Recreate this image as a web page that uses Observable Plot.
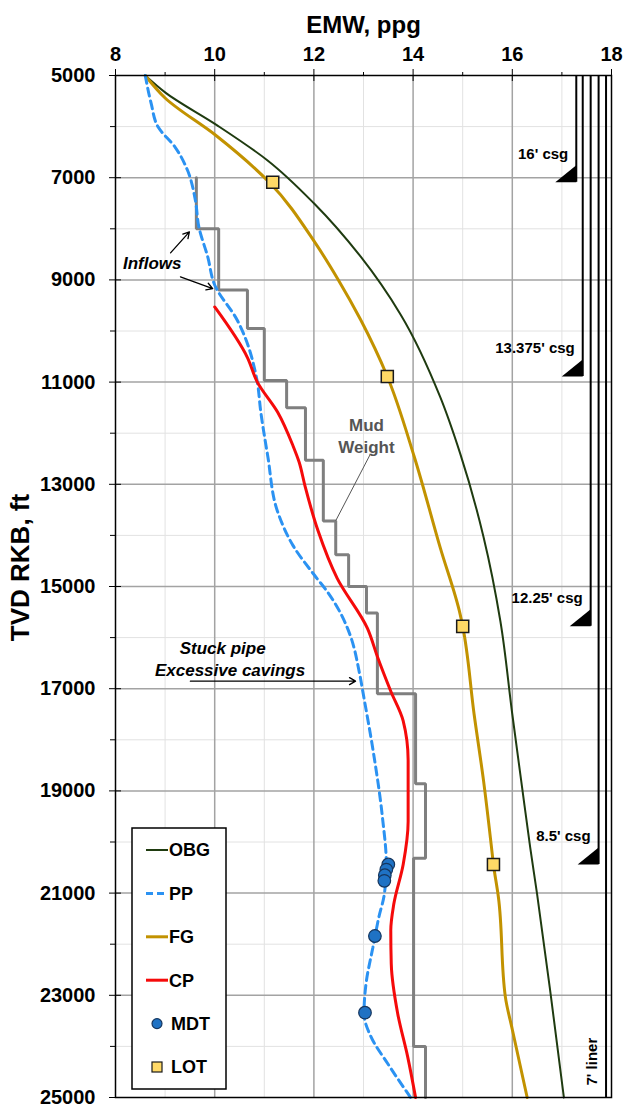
<!DOCTYPE html>
<html><head><meta charset="utf-8">
<script src="https://cdn.jsdelivr.net/npm/d3@7"></script>
<script src="https://cdn.jsdelivr.net/npm/@observablehq/plot@0.6"></script>
<style>
body{margin:0;background:#fff;}
#wrap{position:relative;width:626px;height:1109px;}
</style></head><body><div id="wrap"></div>
<script>
// ---- data (EMW ppg vs TVD ft) ----
const obgV = [8.6, 9.0, 10.05, 11.06, 12.0, 12.94, 13.75, 14.55, 14.95, 15.42, 15.76, 16.0, 16.2, 16.36, 16.5, 16.78, 17.04];
const obgD = [5000, 5330, 5975, 6657, 7500, 8541, 9680, 11300, 12400, 14030, 15680, 17500, 18950, 20100, 21020, 23030, 25000];

const fgV = [8.6, 9.0, 10.02, 11.1, 12.03, 12.49, 12.94, 13.48, 14.02, 14.55, 14.95, 15.0, 15.23, 15.42, 15.58, 15.62, 15.72, 15.86, 16.0, 16.3];
const fgD = [5000, 5440, 6170, 7090, 8281, 8996, 9776, 10890, 12450, 14250, 15550, 15780, 17500, 18800, 20100, 20440, 21080, 23030, 23670, 25000];

const ppV = [8.6, 8.72, 8.86, 9.2, 9.45, 9.61, 9.68, 9.86, 10.0, 10.45, 10.85, 10.93, 11.07, 11.27, 11.58, 12.02, 12.27, 12.52, 12.73, 12.92, 13.0, 13.2, 13.38, 13.46, 13.42, 13.31, 13.19, 13.05, 13.01, 13.15, 13.49, 13.95];
const ppD = [5000, 5550, 6010, 6400, 6850, 7440, 7960, 8550, 9100, 9780, 10950, 11590, 12450, 13540, 14200, 14790, 15100, 15490, 15950, 16700, 17130, 18250, 19500, 20440, 21020, 21470, 22060, 22780, 23360, 23810, 24340, 25000];

const cpV = [10.0, 10.66, 10.86, 11.27, 11.58, 11.7, 11.82, 12.08, 12.47, 13.08, 13.29, 13.55, 13.8, 13.9, 13.9, 13.8, 13.61, 13.55, 13.56, 13.69, 13.89, 14.05];
const cpD = [9530, 10520, 11000, 11590, 12250, 12560, 13030, 13900, 14840, 15820, 16400, 17050, 17630, 18400, 19600, 20440, 21220, 21730, 22390, 23360, 24200, 25000];

const mwV   = [9.63, 10.08, 10.66, 11.0, 11.45, 11.83, 12.19, 12.44, 12.7, 13.06, 13.28, 14.05, 14.25, 14.01, 14.25];
const mwTop = [7000, 8000, 9200, 9950, 10970, 11500, 12530, 13720, 14380, 15000, 15520, 17100, 18860, 20320, 24000];
const mwEnd = 25000;

const mdtV = [13.5, 13.46, 13.43, 13.42, 13.23, 13.03];
const mdtD = [20440, 20540, 20650, 20760, 21840, 23340];

const lotV = [11.17, 13.48, 15.0, 15.62];
const lotD = [7090, 10890, 15780, 20440];

const casingName = ["16' csg", "13.375' csg", "12.25' csg", "8.5' csg", "7' liner"];
const casingV    = [17.29, 17.42, 17.58, 17.74, 17.89];
const casingShoe = [7090, 10890, 15780, 20440, 25000];

const xMajor = [8, 10, 12, 14, 16, 18];
const xMinor = [9, 11, 13, 15, 17];
const yMajor = [5000, 7000, 9000, 11000, 13000, 15000, 17000, 19000, 21000, 23000, 25000];
const yMinor = [6000, 8000, 10000, 12000, 14000, 16000, 18000, 20000, 22000, 24000];

// annotations
const noteText = ["Inflows", "Stuck pipe", "Excessive cavings"];
const noteV    = [8.74, 10.16, 10.31];
const noteD    = [8680, 16210, 16640];
const arrowV1 = [9.11, 9.31, 9.51];
const arrowD1 = [8470, 8940, 16852];
const arrowV2 = [9.49, 9.96, 12.84];
const arrowD2 = [8060, 9170, 16852];
const mudLabel = {v: 13.06, d: 12030};
const mudLeader = {v1: 13.14, d1: 12407, v2: 12.44, d2: 13713};

// ---- tables ----
const zip = (V, D) => V.map((v, i) => ({v, d: D[i]}));
const obg = zip(obgV, obgD), fg = zip(fgV, fgD), pp = zip(ppV, ppD), cp = zip(cpV, cpD);
const mdt = zip(mdtV, mdtD), lot = zip(lotV, lotD);
const mw = [];
mwV.forEach((v, i) => { mw.push({v, d: mwTop[i]}); mw.push({v, d: i + 1 < mwTop.length ? mwTop[i + 1] : mwEnd}); });
const casings = casingName.map((name, i) => ({name, v: casingV[i], shoe: casingShoe[i]}));
const notes = noteText.map((t, i) => ({t, v: noteV[i], d: noteD[i]}));
const arrows = arrowV1.map((v, i) => ({x1: v, y1: arrowD1[i], x2: arrowV2[i], y2: arrowD2[i]}));

const C = {obg: "#1f3b10", fg: "#c29200", pp: "#2b92f2", cp: "#f50a0a", mw: "#7f7f7f",
           mdtFill: "#1f72c4", mdtStroke: "#16365e", lotFill: "#ffd966"};

const shoeSymbol = {draw(ctx) { ctx.moveTo(0, 0); ctx.lineTo(0, -17); ctx.lineTo(-21, 0); ctx.closePath(); }};
const FONT = "'Liberation Sans', Arial, Helvetica, sans-serif";

const chart = Plot.plot({
  width: 626, height: 1109,
  marginTop: 75, marginLeft: 115, marginRight: 15, marginBottom: 12,
  style: {fontFamily: FONT, fontWeight: "bold", fontSize: "20px", color: "#000", background: "#fff", overflow: "visible"},
  x: {domain: [8, 18], axis: null},
  y: {domain: [5000, 25000], reverse: true, axis: null},
  marks: [
    Plot.gridX({ticks: xMinor, stroke: "#e2e2e2", strokeOpacity: 1, strokeWidth: 1}),
    Plot.gridY({ticks: yMinor, stroke: "#e2e2e2", strokeOpacity: 1, strokeWidth: 1}),
    Plot.gridX({ticks: xMajor.slice(1, -1), stroke: "#a3a3a3", strokeOpacity: 1, strokeWidth: 1.5}),
    Plot.gridY({ticks: yMajor.slice(1, -1), stroke: "#a3a3a3", strokeOpacity: 1, strokeWidth: 1.5}),
    // casing strings
    Plot.ruleX(casings, {x: "v", y1: 5000, y2: "shoe", stroke: "#000", strokeWidth: 2}),
    Plot.dot(casings.filter(c => c.shoe < 25000), {x: "v", y: "shoe", symbol: shoeSymbol, fill: "#000", stroke: "none"}),
    Plot.text(casings.filter(c => c.shoe < 25000), {x: "v", y: "shoe", text: "name", textAnchor: "end", dx: -8, dy: -28, fontSize: 15}),
    Plot.text(casings.filter(c => c.shoe >= 25000), {x: "v", y: "shoe", text: "name", textAnchor: "start", rotate: -90, dx: -14, dy: -12, fontSize: 15}),
    // curves
    Plot.line(obg, {x: "v", y: "d", stroke: C.obg, strokeWidth: 2, curve: "monotone-y"}),
    Plot.line(fg, {x: "v", y: "d", stroke: C.fg, strokeWidth: 3, curve: "monotone-y"}),
    Plot.line(mw, {x: "v", y: "d", stroke: C.mw, strokeWidth: 3, curve: "linear", strokeLinejoin: "miter"}),
    Plot.line(pp, {x: "v", y: "d", stroke: C.pp, strokeWidth: 3, strokeDasharray: "8,5", curve: "monotone-y"}),
    Plot.line(cp, {x: "v", y: "d", stroke: C.cp, strokeWidth: 3, curve: "monotone-y"}),
    Plot.dot(mdt, {x: "v", y: "d", r: 6.3, fill: C.mdtFill, stroke: C.mdtStroke, strokeWidth: 1.2}),
    Plot.dot(lot, {x: "v", y: "d", symbol: "square", r: 6.8, fill: C.lotFill, stroke: "#1a1a1a", strokeWidth: 1.5}),
    // annotations
    Plot.text(notes, {x: "v", y: "d", text: "t", fontStyle: "italic", fontSize: 17, textAnchor: "middle"}),
    Plot.arrow(arrows, {x1: "x1", y1: "y1", x2: "x2", y2: "y2", stroke: "#000", strokeWidth: 1.3, headLength: 8}),
    Plot.link([mudLeader], {x1: "v1", y1: "d1", x2: "v2", y2: "d2", stroke: "#555", strokeWidth: 1}),
    Plot.text([mudLabel], {x: "v", y: "d", text: () => "Mud\nWeight", fill: "#555", fontSize: 17, lineHeight: 1.3, textAnchor: "middle"}),
    // frame & axes
    Plot.frame({stroke: "#000", strokeWidth: 1.5}),
    Plot.axisX({anchor: "top", ticks: xMajor, tickSize: 7, tickPadding: 8, tickFormat: d => String(d), label: null, fontSize: 20}),
    Plot.axisX({anchor: "top", ticks: xMajor, tickSize: -5, tickFormat: () => "", label: null}),
    Plot.axisX({anchor: "top", ticks: xMinor, tickSize: 4, tickFormat: () => "", label: null}),
    Plot.axisY({anchor: "left", ticks: yMajor, tickSize: 6, tickPadding: 14, tickFormat: d => String(d), label: null, fontSize: 20}),
    Plot.axisY({anchor: "left", ticks: yMajor, tickSize: -6, tickFormat: () => "", label: null}),
    Plot.axisY({anchor: "left", ticks: yMinor, tickSize: 5, tickFormat: () => "", label: null}),
    Plot.text(["EMW, ppg"], {frameAnchor: "top", dy: -50, fontSize: 24, textAnchor: "middle", lineAnchor: "middle", text: d => d}),
    Plot.text(["TVD RKB, ft"], {frameAnchor: "left", dx: -95, dy: -19, rotate: -90, fontSize: 26, textAnchor: "middle", lineAnchor: "middle", text: d => d})
  ]
});
document.getElementById("wrap").appendChild(chart);

// ---- legend (overlay inside plot area) ----
const legendItems = [
  {label: "OBG", kind: "line", color: C.obg, width: 2, dash: null},
  {label: "PP",  kind: "line", color: C.pp,  width: 3, dash: "7,4"},
  {label: "FG",  kind: "line", color: C.fg,  width: 3, dash: null},
  {label: "CP",  kind: "line", color: C.cp,  width: 3, dash: null},
  {label: "MDT", kind: "circle", color: C.mdtFill, stroke: C.mdtStroke},
  {label: "LOT", kind: "square", color: C.lotFill, stroke: "#1a1a1a"}
];
const leg = d3.select("#wrap").append("svg")
  .attr("width", 626).attr("height", 1109)
  .style("position", "absolute").style("left", "0px").style("top", "0px")
  .style("font-family", FONT).style("font-weight", "bold").style("font-size", "18px");
leg.append("rect").attr("x", 132).attr("y", 828).attr("width", 94).attr("height", 261)
  .attr("fill", "#fff").attr("stroke", "#000").attr("stroke-width", 1.5);
legendItems.forEach((it, i) => {
  const y = 850 + i * 43.4;
  if (it.kind === "line") {
    leg.append("line").attr("x1", 146).attr("x2", 168).attr("y1", y).attr("y2", y)
      .attr("stroke", it.color).attr("stroke-width", it.width).attr("stroke-dasharray", it.dash);
  } else if (it.kind === "circle") {
    leg.append("circle").attr("cx", 157).attr("cy", y).attr("r", 5).attr("fill", it.color).attr("stroke", it.stroke).attr("stroke-width", 1.2);
  } else {
    leg.append("rect").attr("x", 152).attr("y", y - 5).attr("width", 10).attr("height", 10).attr("fill", it.color).attr("stroke", it.stroke).attr("stroke-width", 1.2);
  }
  leg.append("text").attr("x", it.kind === "line" ? 169 : 171).attr("y", y).attr("dy", "0.35em").text(it.label);
});
</script>
</body></html>
